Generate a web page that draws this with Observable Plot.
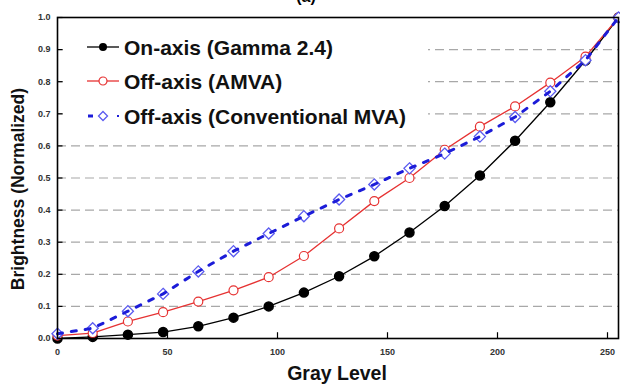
<!DOCTYPE html>
<html><head><meta charset="utf-8">
<script src="https://cdn.jsdelivr.net/npm/d3@7"></script>
<script src="https://cdn.jsdelivr.net/npm/@observablehq/plot@0.6"></script>
<style>body{margin:0;background:#fff} #chart{width:620px;height:384px;overflow:hidden}</style>
</head><body><div id="chart"></div>
<script>
const grayLevels = [0,16,32,48,64,80,96,112,128,144,160,176,192,208,224,240,255];
const onAxis = [0,0.005,0.012,0.02,0.038,0.065,0.1,0.143,0.194,0.256,0.33,0.413,0.508,0.616,0.736,0.866,1.0];
const offAxisAMVA = [0.009,0.017,0.053,0.082,0.115,0.15,0.191,0.257,0.343,0.428,0.5,0.588,0.66,0.723,0.797,0.878,1.0];
const offAxisMVA = [0.015,0.032,0.085,0.139,0.209,0.272,0.327,0.381,0.433,0.48,0.53,0.576,0.629,0.69,0.77,0.867,1.0];
const seriesNames = ["On-axis (Gamma 2.4)", "Off-axis (AMVA)", "Off-axis (Conventional MVA)"];
const xTicks = [0,50,100,150,200,250];
const yTicks = [0,0.1,0.2,0.3,0.4,0.5,0.6,0.7,0.8,0.9,1.0];
const gridTicks = yTicks.slice(1, -1);
const titleText = "(a)";
const xLabel = "Gray Level";
const yLabel = "Brightness (Normalized)";

const colors = {on: "#000000", amva: "#e63232", mva: "#1c1cd8", mvaMarker: "#5b5bf0"};
const mk = vals => grayLevels.map((g, i) => ({g, v: vals[i]}));
const dOn = mk(onAxis), dAmva = mk(offAxisAMVA), dMva = mk(offAxisMVA);
const font = "'Liberation Sans', Arial, sans-serif";

const chart = Plot.plot({
  width: 620, height: 384,
  marginLeft: 57, marginRight: 2, marginTop: 17, marginBottom: 46,
  style: {fontFamily: font, fontWeight: "bold", background: "white"},
  x: {domain: [0, 255]},
  y: {domain: [0, 1]},
  marks: [
    Plot.gridY(gridTicks, {stroke: "#a8a8a8", strokeOpacity: 1, strokeWidth: 1.2, strokeDasharray: "9,5"}),
    Plot.axisX(xTicks, {tickSize: 0, tickPadding: 10, fontSize: 9, color: "#333", label: null}),
    Plot.axisY(yTicks, {tickSize: 0, tickPadding: 7, fontSize: 9, color: "#333", label: null, tickFormat: d => d.toFixed(1)}),
    Plot.ruleX(xTicks, {y1: 0, y2: 0.018, stroke: "black", strokeWidth: 1.2}),
    Plot.ruleY(yTicks, {x1: 0, x2: 2.5, stroke: "black", strokeWidth: 1.2}),
    Plot.line(dOn, {x: "g", y: "v", stroke: colors.on, strokeWidth: 1.3}),
    Plot.dot(dOn, {x: "g", y: "v", r: 4.5, fill: colors.on, stroke: colors.on}),
    Plot.line(dAmva, {x: "g", y: "v", stroke: colors.amva, strokeWidth: 1.3}),
    Plot.dot(dAmva, {x: "g", y: "v", r: 4.5, fill: "white", stroke: colors.amva, strokeWidth: 1.2}),
    Plot.dot(dMva, {x: "g", y: "v", r: 5, symbol: "diamond2", fill: "white", stroke: colors.mvaMarker, strokeWidth: 1.3}),
    Plot.line(dMva, {x: "g", y: "v", stroke: colors.mva, strokeWidth: 3, strokeDasharray: "5,9"}),
    Plot.frame({stroke: "black", strokeWidth: 1.6})
  ]
});
document.getElementById("chart").appendChild(chart);

const svg = d3.select(chart);
// title (mostly cut off at the top, as in the reference)
svg.append("text").attr("x", 306).attr("y", 2).attr("text-anchor", "middle")
  .attr("font-size", 16).attr("font-weight", "bold").attr("font-family", font).text(titleText);
// axis titles
svg.append("text").attr("x", 337).attr("y", 380).attr("text-anchor", "middle")
  .attr("font-size", 19.5).attr("font-weight", "bold").attr("font-family", font).attr("fill", "#111").text(xLabel);
svg.append("text").attr("transform", "translate(24,189) rotate(-90)").attr("text-anchor", "middle")
  .attr("font-size", 17.5).attr("font-weight", "bold").attr("font-family", font).attr("fill", "#111").text(yLabel);

// legend
const lg = svg.append("g");
lg.append("rect").attr("x", 63).attr("y", 28).attr("width", 365).attr("height", 104).attr("fill", "white");
const rows = [
  {name: seriesNames[0], y: 47, kind: "on"},
  {name: seriesNames[1], y: 81, kind: "amva"},
  {name: seriesNames[2], y: 116, kind: "mva"}
];
rows.forEach(r => {
  const g = lg.append("g").attr("transform", `translate(0,${r.y})`);
  if (r.kind === "on") {
    g.append("line").attr("x1", 87).attr("x2", 119).attr("stroke", colors.on).attr("stroke-width", 1.3);
    g.append("circle").attr("cx", 103).attr("r", 4).attr("fill", colors.on);
  } else if (r.kind === "amva") {
    g.append("line").attr("x1", 87).attr("x2", 119).attr("stroke", colors.amva).attr("stroke-width", 1.3);
    g.append("circle").attr("cx", 103).attr("r", 4).attr("fill", "white").attr("stroke", colors.amva).attr("stroke-width", 1.2);
  } else {
    g.append("line").attr("x1", 88).attr("x2", 93).attr("stroke", colors.mva).attr("stroke-width", 3);
    g.append("line").attr("x1", 117).attr("x2", 119).attr("stroke", colors.mva).attr("stroke-width", 2);
    g.append("path").attr("d", "M103,-4.5L107.5,0L103,4.5L98.5,0Z").attr("fill", "white").attr("stroke", colors.mvaMarker).attr("stroke-width", 1.3);
  }
  g.append("text").attr("x", 124).attr("dy", "0.36em").attr("text-anchor", "start").attr("font-size", 21).attr("font-weight", "bold")
    .attr("font-family", font).attr("fill", "#111").text(r.name);
});
</script>
</body></html>
